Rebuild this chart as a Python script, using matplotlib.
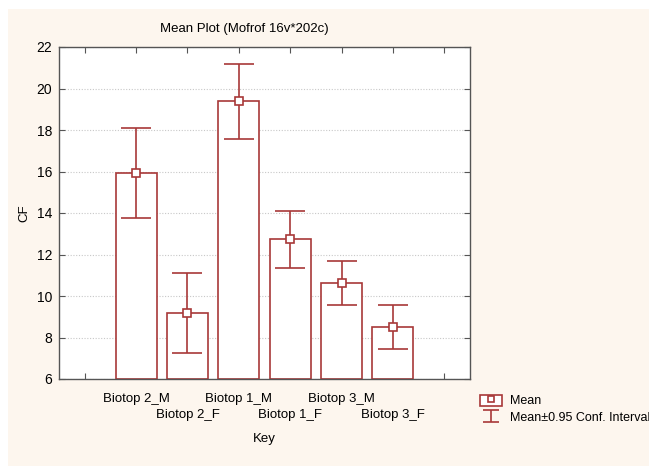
import matplotlib.pyplot as plt
import matplotlib.patches as mpatches
from matplotlib.lines import Line2D
import numpy as np

plt.rcParams['font.family'] = ['Liberation Sans', 'DejaVu Sans']

groups = ['Biotop 2_M', 'Biotop 2_F', 'Biotop 1_M', 'Biotop 1_F', 'Biotop 3_M', 'Biotop 3_F']
means = [15.93, 9.20, 19.38, 12.73, 10.64, 8.52]
ci_low = [13.74, 7.27, 17.55, 11.33, 9.57, 7.46]
ci_high = [18.08, 11.12, 21.18, 14.10, 11.67, 9.55]

red = '#a83838'
cream = '#fdf6ee'

fig = plt.figure(figsize=(6.49, 4.66), dpi=100)
fig.patch.set_facecolor('white')
fig.patches.append(mpatches.Rectangle((8 / 649, -0.1), 1.1, 1.1 - 9 / 466, transform=fig.transFigure,
                                      facecolor=cream, edgecolor='none', zorder=-10))

ax = fig.add_axes([59 / 649, 1 - 379 / 466, 411 / 649, 332 / 466])
ax.set_facecolor('white')

x = np.arange(1, len(groups) + 1)
m = np.array(means)
lo = m - np.array(ci_low)
hi = np.array(ci_high) - m

ax.bar(x, m - 6, bottom=6, width=0.8, facecolor='white', edgecolor=red, linewidth=1.2, zorder=2)
ax.errorbar(x, m, yerr=[lo, hi], fmt='none', ecolor=red, elinewidth=1.2, capsize=10.5,
            capthick=1.2, zorder=3)
ax.plot(x, m, 's', ms=6, mfc='white', mec=red, mew=1.2, zorder=4)

# off-view errorbar, only used as legend handle
h_ci = ax.errorbar([100], [100], yerr=[1], fmt='none', ecolor=red, elinewidth=1.2, capsize=6, capthick=1.2)

ax.set_xlim(-0.5, 7.5)
ax.set_ylim(6, 22)
ax.set_yticks(np.arange(6, 23, 2))
ax.set_xticks(np.arange(0, 8))
labels = [''] + [g if i % 2 == 0 else '\n' + g for i, g in enumerate(groups)] + ['']
ax.set_xticklabels(labels, fontsize=9.5, linespacing=1.45)
ax.tick_params(axis='y', labelsize=10, pad=5)
ax.tick_params(axis='x', pad=10)
ax.tick_params(direction='in', length=4, top=True, right=True, color='#555555')
ax.yaxis.grid(True, linestyle=(0, (1, 1.5)), color='#c8c8c8', linewidth=0.8)
ax.set_axisbelow(True)
for s in ax.spines.values():
    s.set_color('#555555')
    s.set_linewidth(1.0)

ax.set_xlabel('Key', fontsize=9.5, labelpad=9)
ax.set_ylabel('CF', fontsize=9.5, labelpad=4)
fig.text(244 / 649, 1 - 29 / 466, 'Mean Plot (Mofrof 16v*202c)', ha='center', va='center', fontsize=9.5)

h_mean = (mpatches.Rectangle((0, 0), 1, 1, facecolor='white', edgecolor=red, linewidth=1.2),
          Line2D([], [], marker='s', ls='none', ms=5, mfc='white', mec=red, mew=1.2))
fig.legend([h_mean, h_ci], ['Mean', 'Mean\u00b10.95 Conf. Interval'], loc='upper left',
           bbox_to_anchor=(473 / 649, 1 - 387 / 466), frameon=False, fontsize=9,
           handlelength=1.75, handleheight=1.0, handletextpad=0.6, labelspacing=0.3, borderpad=0.1)

fig.savefig('out.png', dpi=100, facecolor=fig.get_facecolor())
